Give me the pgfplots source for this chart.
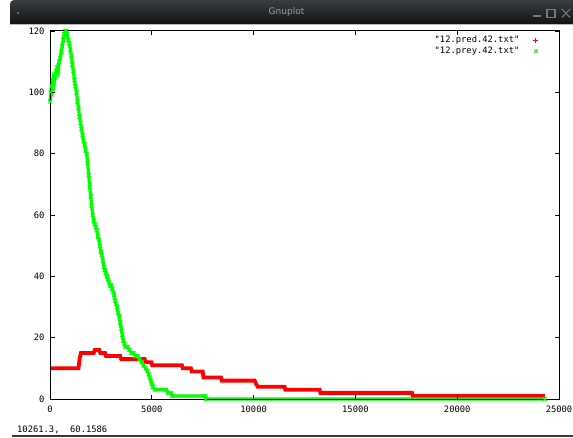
\documentclass[border=0pt]{standalone}
\usepackage{pgfplots}
\pgfplotsset{compat=1.18}
\usepackage{fontspec}
\setmainfont{DejaVu Sans}
\newfontfamily\gpfont{DejaVu Sans Mono}
\definecolor{gpred}{RGB}{255,0,0}
\definecolor{gpgreen}{RGB}{0,255,0}
\definecolor{bartop}{RGB}{58,61,64}
\definecolor{barbot}{RGB}{18,19,20}
\definecolor{iconcol}{RGB}{120,120,120}

\pgfplotstableread{
x y
0 10
1400 10
1450 13
1520 15
2150 15
2200 16
2420 16
2470 15
2700 15
2750 14
3450 14
3500 13
4650 13
4700 12
4980 12
5020 11
6480 11
6520 10
6920 10
6960 9
7500 9
7540 7
8400 7
8440 6
10050 6
10120 5
10200 4
11520 4
11560 3
13240 3
13280 2
17780 2
17820 1
24300 1
}\predtable

\pgfplotstableread{
x y
0 97
40 100
80 102
120 101
160 104
200 103
250 105
300 107
350 108
400 107
450 110
500 111
550 113
600 115
650 117
700 119
750 120
800 120
850 119
900 117
950 116
1000 114
1050 112
1100 109
1150 107
1200 104
1250 102
1300 100
1350 97
1400 95
1450 92
1500 90
1550 88
1600 86
1650 84
1700 83
1750 81
1800 80
1850 77
1900 73
1950 69
2000 66
2050 63
2100 60
2150 58
2200 57
2250 56
2300 55
2350 53
2400 52
2450 50
2500 48
2550 47
2600 45
2650 43
2700 42
2750 41
2800 40
2850 39
2900 38
2950 37
3000 37
3050 36
3100 35
3150 34
3200 32
3250 31
3300 30
3350 28
3400 27
3450 25
3500 23
3550 21
3600 19
3650 18
3700 17
3800 17
3900 16
4000 15
4100 15
4200 14
4300 14
4400 13
4500 12
4600 11
4700 10
4800 9
4850 8
4900 7
4950 6
5000 5
5050 4
5150 3
5700 3
5800 2
5950 2
6000 1
7600 1
7650 0
24300 0
}\preytable

\begin{document}
\begin{tikzpicture}
\useasboundingbox (0pt,0pt) rectangle (573pt,437pt);
\fill[white] (0pt,0pt) rectangle (573pt,437pt);
% window title bar
\shade[top color=bartop, bottom color=barbot] (10pt,413pt) [rounded corners=4pt] -- (10pt,437pt) -- (590pt,437pt) [sharp corners] -- (590pt,413pt) -- cycle;
\draw[gray!55] (10pt,412.5pt) -- (573pt,412.5pt);
\node[text=gray!75, font=\fontsize{9}{10}\selectfont] at (286.5pt,425pt) {Gnuplot};
\fill[gray!70] (18pt,424pt) circle (0.9pt);
\fill[iconcol] (533pt,420pt) rectangle (541pt,422pt);
\draw[iconcol, line width=1.1pt] (547pt,419.5pt) rectangle (555pt,427.5pt);
\draw[iconcol, line width=1.1pt] (562pt,419.5pt) -- (570pt,428pt) (562pt,428pt) -- (570pt,419.5pt);
% status line
\node[anchor=west, inner sep=0pt, font=\gpfont\fontsize{8.8}{10}\selectfont] at (17pt,7pt) {10261.3,\ \ 60.1586};
\draw[line width=2pt, color={rgb,255:red,55;green,55;blue,55}] (12pt,1.5pt) -- (573pt,1.5pt);

\begin{axis}[
  at={(50pt,38pt)}, anchor=south west,
  scale only axis, width=509pt, height=368pt,
  xmin=0, xmax=25000, ymin=0, ymax=120,
  xtick={0,5000,10000,15000,20000,25000},
  ytick={0,20,40,60,80,100,120},
  tick align=inside, major tick length=4.5pt,
  axis line style={line width=1pt},
  every tick/.style={black, line width=0.9pt},
  tick label style={font=\gpfont\fontsize{8.8}{10}\selectfont},
  /pgf/number format/assume math mode=true,
  /pgf/number format/set thousands separator={},
  scaled ticks=false,
  xticklabel style={yshift=-3pt},
  yticklabel style={xshift=-2pt},
  axis on top, clip=false,
  legend plot pos=right,
  legend cell align=right,
  legend style={draw=none, fill=none, anchor=north east, at={(rel axis cs:0.960,0.992)},
    font=\gpfont\fontsize{8.8}{10}\selectfont, inner sep=0pt, row sep=-1.5pt,
    /tikz/every odd column/.append style={column sep=12pt}},
]
\addplot[gpred, line width=3.8pt, forget plot] table[x=x,y=y] {\predtable};
\addplot[gpgreen, line width=3.2pt, mark=x, mark size=2.8pt, mark options={line width=1pt}, forget plot] table[x=x,y=y] {\preytable};
\addlegendimage{only marks, mark=+, gpred, mark size=2.5pt, mark options={line width=0.9pt}}
\addlegendentry{"12.pred.42.txt"}
\addlegendimage{only marks, mark=x, gpgreen, mark size=2.5pt, mark options={line width=0.9pt}}
\addlegendentry{"12.prey.42.txt"}
\end{axis}
\end{tikzpicture}
\end{document}
